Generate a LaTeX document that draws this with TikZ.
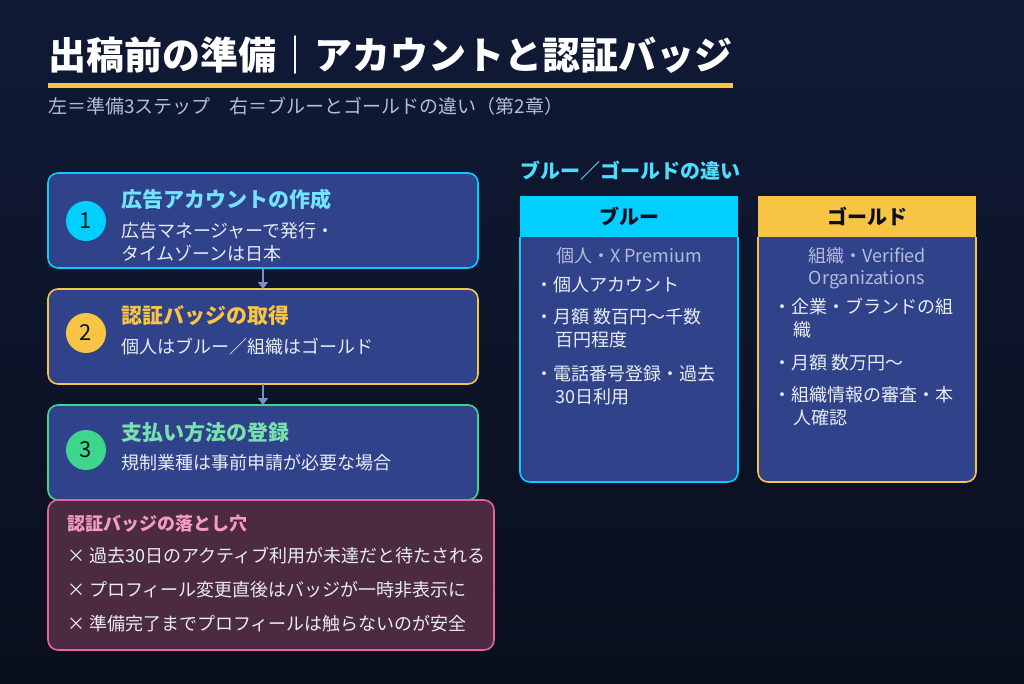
\documentclass[tikz,border=0pt]{standalone}
\usepackage{fontspec}
\usetikzlibrary{arrows.meta}
\setmainfont{Noto Sans CJK JP}
\definecolor{bgA}{HTML}{101a36}
\definecolor{bgB}{HTML}{0a0f1d}
\definecolor{card}{HTML}{30438a}
\definecolor{cyanc}{HTML}{00CFFF}
\definecolor{goldc}{HTML}{F7C444}
\definecolor{greenc}{HTML}{3ED68C}
\definecolor{pinkc}{HTML}{E8629C}
\definecolor{pinkt}{HTML}{F59CC4}
\definecolor{pitbg}{HTML}{4C2A42}
\definecolor{txt}{HTML}{E8ECF6}
\definecolor{subt}{HTML}{B4BCD8}
\definecolor{arr}{HTML}{7C90C6}
\definecolor{dark}{HTML}{0B1020}
\begin{document}
\begin{tikzpicture}[x=1pt,y=-1pt,
 stepbox/.style={draw=#1,line width=1.6pt,fill=card,rounded corners=10pt},
 num/.style={circle,fill=#1,minimum size=40pt,inner sep=0pt,font=\fontsize{22}{22}\selectfont,text=dark},
 ttl/.style={anchor=base west,font=\fontsize{21}{21}\selectfont\bfseries,text=#1,inner sep=0pt},
 body/.style={anchor=base west,font=\fontsize{18}{18}\selectfont,text=txt,inner sep=0pt},
 ctr/.style={anchor=base,font=\fontsize{18}{18}\selectfont,text=subt,inner sep=0pt},
 arrow/.style={draw=arr,line width=2.5pt,-{Triangle[length=7pt,width=10pt]}}]
\shade[top color=bgA,bottom color=bgB] (0,0) rectangle (1024,683);
\useasboundingbox (0,0) rectangle (1024,683);
% title
\node[anchor=base west,inner sep=0pt,font=\fontsize{38}{38}\selectfont\bfseries,text=white] (title) at (48,69) {出稿前の準備｜アカウントと認証バッジ};
\fill[goldc] (48,83) rectangle (733,88);
\node[anchor=base west,inner sep=0pt,font=\fontsize{19}{19}\selectfont,text=subt] (sub) at (48,113) {左＝準備3ステップ　右＝ブルーとゴールドの違い（第2章）};
% steps
\draw[stepbox=cyanc] (48,173) rectangle (478,268);
\coordinate (b1s) at (263,268);
\node[num=cyanc] (n1) at (86,221) {1};
\node[ttl={cyanc!55!white}] (t1) at (121,207) {広告アカウントの作成};
\node[body] (d1a) at (121,237) {広告マネージャーで発行・};
\node[body] (d1b) at (121,260) {タイムゾーンは日本};
\draw[stepbox=goldc] (48,289) rectangle (478,384);
\coordinate (b2n) at (263,289); \coordinate (b2s) at (263,384);
\node[num=goldc] (n2) at (86,333) {2};
\node[ttl=goldc] (t2) at (121,323) {認証バッジの取得};
\node[body] (d2) at (121,353) {個人はブルー／組織はゴールド};
\draw[stepbox=greenc] (48,405) rectangle (478,500);
\coordinate (b3n) at (263,405);
\node[num=greenc] (n3) at (86,450) {3};
\node[ttl={greenc!70!white}] (t3) at (121,440) {支払い方法の登録};
\node[body] (d3) at (121,469) {規制業種は事前申請が必要な場合};
\draw[arrow] (b1s) -- (b2n);
\draw[arrow] (b2s) -- (b3n);
% pitfalls
\draw[draw=pinkc,line width=1.6pt,fill=pitbg,rounded corners=10pt] (48,500) rectangle (494,650);
\node[anchor=base west,inner sep=0pt,font=\fontsize{18}{18}\selectfont\bfseries,text=pinkt] (pt) at (67,530) {認証バッジの落とし穴};
\node[body] (p1) at (67,562) {×\ 過去30日のアクティブ利用が未達だと待たされる};
\node[body] (p2) at (67,596) {×\ プロフィール変更直後はバッジが一時非表示に};
\node[body] (p3) at (67,630) {×\ 準備完了までプロフィールは触らないのが安全};
% right
\node[anchor=base west,inner sep=0pt,font=\fontsize{20}{20}\selectfont\bfseries,text={cyanc!70!white}] (rh) at (520,178) {ブルー／ゴールドの違い};
\draw[draw=cyanc,line width=1.6pt,fill=card,rounded corners=10pt] (520,237) -- (520,482) -- (738,482) -- (738,237);
\fill[cyanc] (520,196) rectangle (738,237);
\node[anchor=base,inner sep=0pt,font=\fontsize{20}{20}\selectfont\bfseries,text=dark] (bh) at (629,224) {ブルー};
\node[ctr] (bs) at (629,262) {個人・X Premium};
\node[body] at (535,291) {・個人アカウント};
\node[body] at (535,323) {・月額 数百円〜千数};
\node[body] at (555,346) {百円程度};
\node[body] at (535,380) {・電話番号登録・過去};
\node[body] at (555,403) {30日利用};
\draw[draw=goldc,line width=1.6pt,fill=card,rounded corners=10pt] (758,237) -- (758,482) -- (976,482) -- (976,237);
\fill[goldc] (758,196) rectangle (976,237);
\node[anchor=base,inner sep=0pt,font=\fontsize{20}{20}\selectfont\bfseries,text=dark] (gh) at (867,224) {ゴールド};
\node[ctr] (gs1) at (867,262) {組織・Verified};
\node[ctr] (gs2) at (867,284) {Organizations};
\node[body] at (773,313) {・企業・ブランドの組};
\node[body] at (793,336) {織};
\node[body] at (773,369) {・月額 数万円〜};
\node[body] at (773,401) {・組織情報の審査・本};
\node[body] at (793,424) {人確認};
\end{tikzpicture}
\end{document}
